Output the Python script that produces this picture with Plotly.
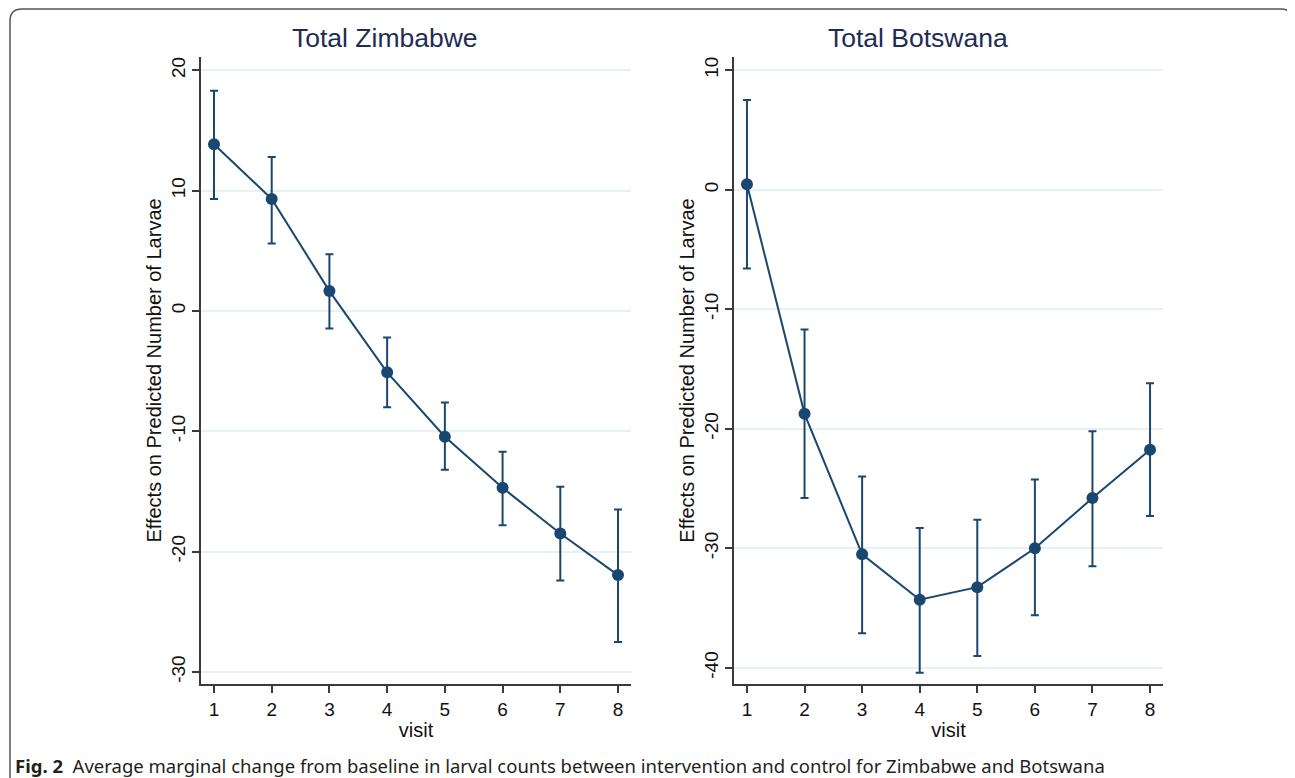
import plotly.graph_objects as go

visits = [1, 2, 3, 4, 5, 6, 7, 8]

zim_est = [13.85, 9.3, 1.65, -5.1, -10.45, -14.7, -18.5, -21.95]
zim_lo = [9.3, 5.6, -1.45, -8.0, -13.2, -17.8, -22.4, -27.5]
zim_hi = [18.3, 12.8, 4.7, -2.2, -7.6, -11.7, -14.6, -16.5]

bot_est = [0.45, -18.75, -30.5, -34.3, -33.25, -30.0, -25.8, -21.75]
bot_lo = [-6.6, -25.8, -37.1, -40.4, -39.0, -35.6, -31.5, -27.3]
bot_hi = [7.5, -11.7, -24.0, -28.3, -27.6, -24.25, -20.2, -16.2]

titles = ["Total Zimbabwe", "Total Botswana"]
y_title = "Effects on Predicted Number of Larvae"
x_title = "visit"
zim_ticks = [-30, -20, -10, 0, 10, 20]
bot_ticks = [-40, -30, -20, -10, 0, 10]
caption_bold = "Fig. 2"
caption_text = "Average marginal change from baseline in larval counts between intervention and control for Zimbabwe and Botswana"

# page body has an 8px margin; lay the figure out in window pixels minus that offset
OFF = 8
W, H = 1295 - OFF, 778 - OFF


def px(x):
    return (x - OFF) / W


def py(y):
    return 1 - (y - OFF) / H


NAVY = "#1a476f"
AXC = "#3a3a3a"
GRID = "#e9f0f3"
FONT = "Liberation Sans, Arial, sans-serif"

fig = go.Figure()


def add_series(est, lo, hi, xa, ya):
    plus = [h - e for h, e in zip(hi, est)]
    minus = [e - l for e, l in zip(est, lo)]
    fig.add_trace(go.Scatter(
        x=visits, y=est, mode="lines+markers", xaxis=xa, yaxis=ya,
        line=dict(color=NAVY, width=2),
        marker=dict(color=NAVY, size=12),
        error_y=dict(type="data", array=plus, arrayminus=minus, symmetric=False,
                     color=NAVY, thickness=2, width=4),
        showlegend=False, hoverinfo="x+y",
    ))


add_series(zim_est, zim_lo, zim_hi, "x", "y")
add_series(bot_est, bot_lo, bot_hi, "x2", "y2")

ydom = [py(684), py(57)]
xdom1 = [px(201), px(631)]
xdom2 = [px(734), px(1163)]

xcommon = dict(range=[0.775, 8.225], tickvals=visits, ticks="outside", ticklen=7,
               tickwidth=1.5, tickcolor=AXC, showline=True, linecolor=AXC, linewidth=1.5,
               showgrid=False, zeroline=False,
               tickfont=dict(family=FONT, size=19, color="#111"),
               title=dict(text=x_title, font=dict(family=FONT, size=20, color="#111"), standoff=4))
ycommon = dict(ticks="outside", ticklen=7, tickwidth=1.5, tickcolor=AXC,
               showline=True, linecolor=AXC, linewidth=1.5,
               showgrid=True, gridcolor=GRID, gridwidth=2, zeroline=False,
               tickangle=-90,
               tickfont=dict(family=FONT, size=19, color="#111"),
               title=dict(text=y_title, font=dict(family=FONT, size=20, color="#111"), standoff=1))


def labels(vals):
    return [str(v) for v in vals]


fig.update_layout(
    width=W, height=H, autosize=False,
    margin=dict(l=0, r=0, t=0, b=0),
    paper_bgcolor="white", plot_bgcolor="white",
    xaxis=dict(domain=xdom1, anchor="y", **xcommon),
    yaxis=dict(domain=ydom, anchor="x", range=[-31.0, 21.1], tickvals=zim_ticks,
               ticktext=labels(zim_ticks), **ycommon),
    xaxis2=dict(domain=xdom2, anchor="y2", **xcommon),
    yaxis2=dict(domain=ydom, anchor="x2", range=[-41.35, 11.1], tickvals=bot_ticks,
                ticktext=labels(bot_ticks), **ycommon),
)

for t, cx in zip(titles, [385, 918]):
    fig.add_annotation(text=t, x=px(cx), y=py(38), xref="paper", yref="paper",
                       showarrow=False, xanchor="center", yanchor="middle",
                       font=dict(family=FONT, size=26.5, color="#1e2d53"))

fig.add_annotation(
    text="<b>" + caption_bold + "</b>  " + caption_text,
    x=px(13), y=py(765), xref="paper", yref="paper", showarrow=False,
    xanchor="left", yanchor="middle",
    font=dict(family="Noto Sans, Open Sans, sans-serif", size=18.5, color="#231f20"))

# rounded frame
x0, x1, yt, r = px(10), px(1293), py(9), 12
rx, ry = r / W, r / H
path = (f"M {x0},-0.05 L {x0},{yt - ry} Q {x0},{yt} {x0 + rx},{yt} "
        f"L {x1 - rx},{yt} Q {x1},{yt} {x1},{yt - ry} L {x1},-0.05")
fig.add_shape(type="path", path=path, xref="paper", yref="paper",
              line=dict(color="#555555", width=1.5))

fig.write_html("out.html")
